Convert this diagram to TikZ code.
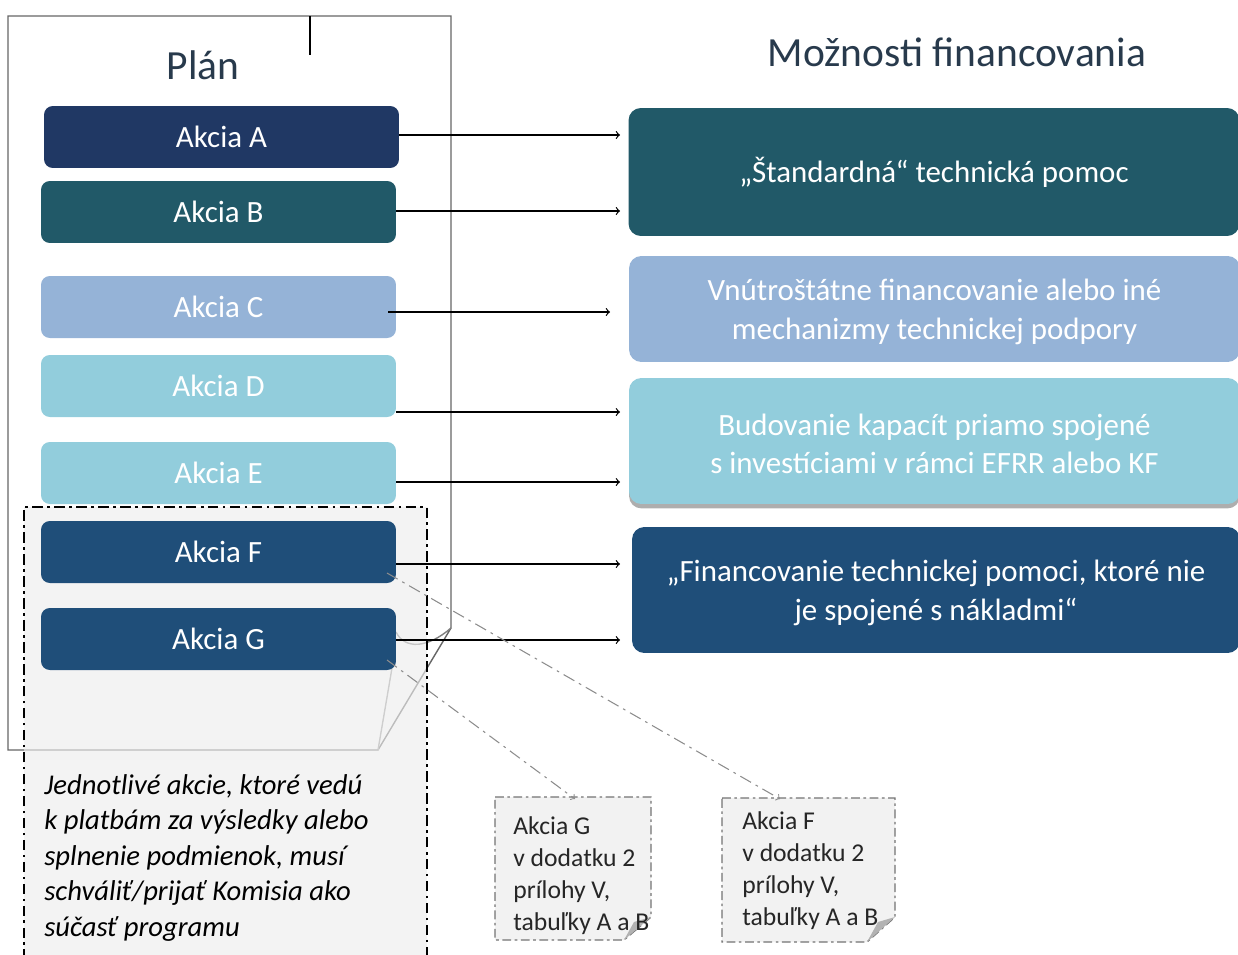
\documentclass[tikz,border=0pt]{standalone}
\usepackage{fontspec}
\setmainfont{Carlito}
\usepackage{tikz}
\usetikzlibrary{positioning}
\usetikzlibrary{shadows}

\definecolor{navyA}{HTML}{203864}
\definecolor{tealB}{HTML}{215968}
\definecolor{blueC}{HTML}{95B3D7}
\definecolor{cyanD}{HTML}{92CDDC}
\definecolor{navyF}{HTML}{1F4E79}
\definecolor{titlegray}{HTML}{283A4C}
\definecolor{notefill}{HTML}{F2F2F2}

% taller first line, pushes two-line texts a bit down
\newcommand{\boxstrut}{\rule{0pt}{15.5pt}}

\begin{document}
\begin{tikzpicture}
    [x=0.02cm, y=-0.02cm, every node/.style={font=\fontsize{17.6}{22}\selectfont},
    title/.style={text=titlegray, font=\fontsize{23.6}{28}\selectfont},
    akcia/.style={rounded corners=5pt, minimum width=7.1cm, minimum height=1.24cm,
      inner sep=0pt, text=white},
    moznost/.style={rounded corners=7pt, minimum width=12.22cm, inner sep=0pt,
      align=center, text=white},
    page/.style={black!60, line width=0.8pt},
    link/.style={->, line width=0.7pt},
    hint/.style={->, black!45, line width=0.6pt,
      dash pattern=on 7pt off 3pt on 1.5pt off 3pt},
    notebox/.style={black!55, fill=notefill, line width=0.8pt,
      dash pattern=on 5pt off 2pt on 1.5pt off 2pt},
    notetext/.style={anchor=north west, align=left, inner sep=0pt, text=black!85,
      font=\fontsize{14.6}{18.2}\selectfont}]

    \path[use as bounding box, clip] (0,0) rectangle (1238,954);

    % Draw the plan sheet with its curled corner
    \draw[page] (8,750) -- (8,16) -- (451,16) -- (451,628) -- (378,750) -- cycle;
    \draw[black, line width=0.7pt] (310,16) -- (310,55);
    \draw[page, black!40] (392,668) -- (378,750);
    \draw[page, black!50] (396,632) .. controls (405,650) and (428,648) .. (451,628);

    \node[title] (plan) at (203,65) {Plán};
    \node[title] (moznosti) at (957,52) {Možnosti financovania};

    % Actions of the plan
    \node[akcia, fill=navyA] (A) at (221.5,137) {Akcia A};
    \node[akcia, fill=tealB] (B) at (218.5,212) {Akcia B};
    \node[akcia, fill=blueC] (C) at (218.5,307) {Akcia C};
    \node[akcia, fill=cyanD] (D) at (218.5,386) {Akcia D};
    \node[akcia, fill=cyanD] (E) at (218.5,473) {Akcia E};

    % Shaded area for F and G
    \fill[black!7, fill opacity=0.64] (24,507) rectangle (427,960);
    \draw[black, line width=0.9pt, dash pattern=on 6pt off 2.5pt on 1.5pt off 2.5pt]
      (24,960) -- (24,507) -- (427,507) -- (427,960);

    \node[akcia, fill=navyF] (F) at (218.5,552) {Akcia F};
    \node[akcia, fill=navyF] (G) at (218.5,639) {Akcia G};

    \node[anchor=north west, align=left, inner sep=0pt,
      font=\fontsize{16.3}{20.2}\selectfont\itshape] (info) at (44,774)
      {Jednotlivé akcie, ktoré vedú\\k platbám za výsledky alebo\\splnenie podmienok, musí\\schváliť/prijať Komisia ako\\súčasť programu};

    % Funding options
    \node[moznost, fill=tealB, minimum height=2.56cm] (R1) at (934,172)
      {„Štandardná“ technická pomoc};
    \node[moznost, fill=blueC, minimum height=2.12cm] (R2) at (934.5,309)
      {\boxstrut Vnútroštátne financovanie alebo iné\\mechanizmy technickej podpory};
    \node[moznost, fill=cyanD, minimum height=2.52cm,
      drop shadow={shadow xshift=0pt, shadow yshift=-2.5pt, fill=black!45, opacity=0.7}]
      (R3) at (934.5,441)
      {\boxstrut Budovanie kapacít priamo spojené\\s investíciami v rámci EFRR alebo KF};
    \node[moznost, fill=navyF, minimum height=2.52cm, minimum width=12.16cm] (R4) at (936,590)
      {\boxstrut „Financovanie technickej pomoci, ktoré nie\\je spojené s nákladmi“};

    % Arrows from actions to options
    \coordinate (tA) at (620,135);
    \coordinate (tB) at (620,211);
    \coordinate (tC) at (610,312);
    \coordinate (tD) at (620,412);
    \coordinate (tE) at (620,482);
    \coordinate (tF) at (620,564);
    \coordinate (tG) at (620,640);
    \foreach \a in {A,B,D,E,F,G}
      \draw[link] (\a.east |- t\a) -- (t\a);
    \draw[link] ([xshift=-8*0.02cm]C.east |- tC) -- (tC);

    % Notes in the appendix
    \draw[notebox] (495,797) -- (651,797) -- (651,917) -- (624,940) -- (495,940) -- cycle;
    \fill[black!30] (651,917) -- (624,940) -- (634,922) -- cycle;
    \node[notetext] (noteG) at (513,816) {Akcia G\\v dodatku 2\\prílohy V,\\tabuľky A a B};

    \draw[notebox] (722,798) -- (895,798) -- (895,917) -- (867,942) -- (722,942) -- cycle;
    \fill[black!30] (895,917) -- (867,942) -- (878,922) -- cycle;
    \node[notetext] (noteF) at (742,811) {Akcia F\\v dodatku 2\\prílohy V,\\tabuľky A a B};

    \coordinate (sF) at (387,573);
    \coordinate (sG) at (387,660);
    \coordinate (eF) at (780,799);
    \coordinate (eG) at (575,799);
    \draw[hint] (sF) -- (eF);
    \draw[hint] (sG) -- (eG);

\end{tikzpicture}
\end{document}
